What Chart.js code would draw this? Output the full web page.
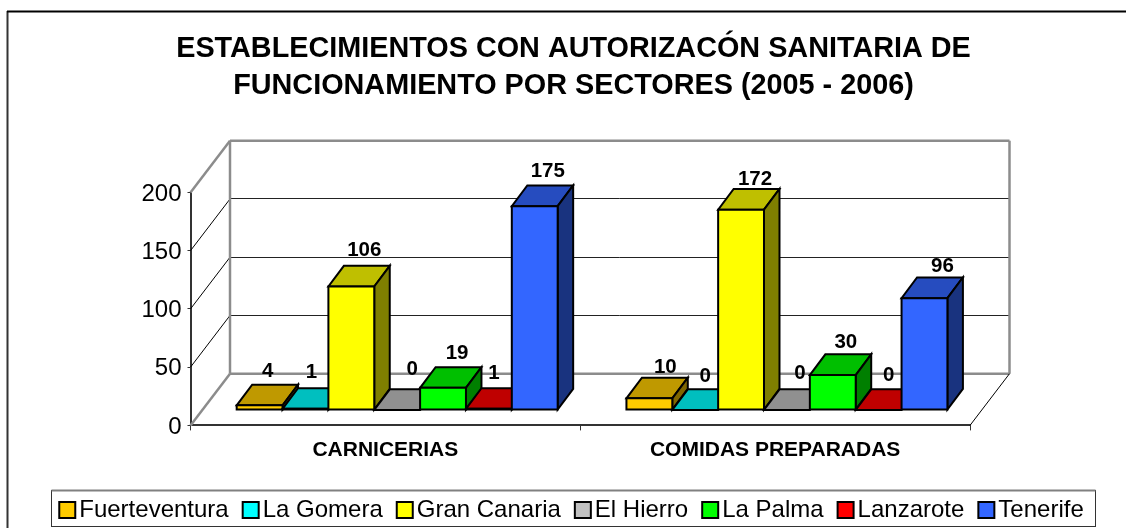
<!DOCTYPE html>
<html><head><meta charset="utf-8">
<style>html,body{margin:0;padding:0;background:#fff}canvas{display:block}</style>
<script src="https://cdn.jsdelivr.net/npm/chart.js@4"></script>
</head><body><canvas id="c" width="1126" height="528"></canvas>
<script>
const categories = ['CARNICERIAS', 'COMIDAS PREPARADAS'];
const fuerteventura = [4, 10];
const laGomera = [1, 0];
const granCanaria = [106, 172];
const elHierro = [0, 0];
const laPalma = [19, 30];
const lanzarote = [1, 0];
const tenerife = [175, 96];
const seriesNames = ['Fuerteventura', 'La Gomera', 'Gran Canaria', 'El Hierro', 'La Palma', 'Lanzarote', 'Tenerife'];
const seriesValues = [fuerteventura, laGomera, granCanaria, elHierro, laPalma, lanzarote, tenerife];
const titleLines = ['ESTABLECIMIENTOS CON AUTORIZACÓN SANITARIA DE', 'FUNCIONAMIENTO POR SECTORES (2005 - 2006)'];

const frontColors = ['#FFCC00', '#00FFFF', '#FFFF00', '#C0C0C0', '#00FF00', '#FF0000', '#3366FF'];
const topColors = ['#BF9900', '#00BFBF', '#BFBF00', '#909090', '#00BF00', '#BF0000', '#264CBF'];
const sideColors = ['#7F6600', '#007F7F', '#7F7F00', '#606060', '#007F00', '#7F0000', '#19337F'];
const labelNudgeX = [[-6, 2], [-8, -4], [-1, 0], [1, -1], [0, -1], [-9, -4], [-1, 4]];
const labelNudgeY = [[1, 4], [-2, 1], [-1, 4], [-6, -2], [0, 2], [-1, 0], [0, 3]];

const FONT = '"Liberation Sans", Arial, sans-serif';
const WALL = {dx: 39.5, dy: -51.7};
const OFFSET = {dx: 11.8, dy: -15.4};
const DEPTH = {dx: 15.5, dy: -20.7};

function poly(ctx, pts, fill) {
  ctx.beginPath();
  pts.forEach((p, i) => i ? ctx.lineTo(p[0], p[1]) : ctx.moveTo(p[0], p[1]));
  ctx.closePath();
  if (fill) { ctx.fillStyle = fill; ctx.fill(); }
  ctx.stroke();
}
function seg(ctx, x1, y1, x2, y2, color, w) {
  ctx.strokeStyle = color; ctx.lineWidth = w;
  ctx.beginPath(); ctx.moveTo(x1, y1); ctx.lineTo(x2, y2); ctx.stroke();
}

const scene3d = {
  id: 'scene3d',
  afterLayout(chart) {
    chart.legend.left += 2; chart.legend.right += 2;
  },
  beforeDatasetsDraw(chart) {
    const ctx = chart.ctx, a = chart.chartArea, y = chart.scales.y;
    const bx = a.left + WALL.dx, rx = a.right + WALL.dx, d = WALL.dy;
    ctx.save();
    y.ticks.forEach((t, i) => {
      const py = y.getPixelForTick(i);
      if (t.value > 0 && t.value < 200) {
        seg(ctx, a.left, py, bx, py + d, '#000', 1);
        seg(ctx, bx, Math.floor(py + d) + 0.5, rx, Math.floor(py + d) + 0.5, '#222', 1);
      }
    });
    const grey = '#8C8C8C';
    seg(ctx, bx, a.top + d, rx, a.top + d, grey, 2.5);
    seg(ctx, bx, a.top + d, bx, a.bottom + d, grey, 2.5);
    seg(ctx, rx, a.top + d, rx, a.bottom + d, grey, 2.5);
    seg(ctx, bx, a.bottom + d, rx, a.bottom + d, grey, 2.5);
    seg(ctx, a.left, a.top, bx, a.top + d, grey, 2.5);
    seg(ctx, a.left, a.bottom, bx, a.bottom + d, grey, 2.5);
    seg(ctx, a.right, a.bottom, rx, a.bottom + d, '#000', 1);
    ctx.lineWidth = 2; ctx.strokeStyle = '#000'; ctx.lineJoin = 'miter';
    seriesValues.forEach((vals, s) => {
      chart.getDatasetMeta(s).data.forEach(el => {
        const {x, y: top, base, width} = el.getProps(['x', 'y', 'base', 'width']);
        const l = x - width / 2 + OFFSET.dx, r = x + width / 2 + OFFSET.dx;
        const t = top + OFFSET.dy, b = base + OFFSET.dy;
        ctx.strokeStyle = '#000'; ctx.lineWidth = 2;
        poly(ctx, [[l, t], [r, t], [r + DEPTH.dx, t + DEPTH.dy], [l + DEPTH.dx, t + DEPTH.dy]], topColors[s]);
        poly(ctx, [[r, t], [r + DEPTH.dx, t + DEPTH.dy], [r + DEPTH.dx, b + DEPTH.dy], [r, b]], sideColors[s]);
        ctx.save(); ctx.translate(OFFSET.dx, OFFSET.dy); el.draw(ctx); ctx.restore();
        ctx.strokeStyle = '#000'; ctx.lineWidth = 2;
        poly(ctx, [[l, t], [r, t], [r, b], [l, b]]);
      });
    });
    ctx.fillStyle = '#000'; ctx.font = 'bold 20.5px ' + FONT;
    ctx.textAlign = 'center'; ctx.textBaseline = 'middle';
    seriesValues.forEach((vals, s) => {
      chart.getDatasetMeta(s).data.forEach((el, i) => {
        const {x, y: top} = el.getProps(['x', 'y']);
        ctx.fillText(String(vals[i]),
          x + OFFSET.dx + 14 + labelNudgeX[s][i],
          top + OFFSET.dy + DEPTH.dy - 14 + labelNudgeY[s][i]);
      });
    });
    ctx.restore();
    return false;
  },
  afterDraw(chart) {
    const ctx = chart.ctx;
    ctx.save();
    seg(ctx, 7.5, 11, 7.5, 528, '#333', 2);
    seg(ctx, 7, 11.5, 1126, 11.5, '#000', 2);
    ctx.strokeStyle = '#333'; ctx.lineWidth = 1;
    ctx.strokeRect(51.5, 490.5, 1044, 36);
    seg(ctx, 51.5, 490.5, 1095.5, 490.5, '#808080', 2);
    ctx.restore();
  }
};

new Chart(document.getElementById('c'), {
  type: 'bar',
  data: {
    labels: categories,
    datasets: seriesNames.map((name, i) => ({
      label: name,
      data: seriesValues[i],
      backgroundColor: frontColors[i],
      borderWidth: 0,
      categoryPercentage: 7 / 8.5,
      barPercentage: 1
    }))
  },
  plugins: [scene3d],
  options: {
    responsive: false,
    animation: false,
    layout: {padding: {left: 21, right: 0, top: 0, bottom: -4}},
    plugins: {
      tooltip: {enabled: false},
      title: {
        display: true,
        text: titleLines,
        color: '#000',
        font: {family: FONT, size: 28.8, weight: 'bold', lineHeight: 1.28},
        padding: {top: 31, bottom: 87.7}
      },
      legend: {
        position: 'bottom',
        labels: {
          color: '#000',
          font: {family: FONT, size: 24},
          padding: 22,
          usePointStyle: true,
          pointStyle: 'rect',
          boxWidth: 0.01,
          boxHeight: 16,
          generateLabels(chart) {
            return Chart.defaults.plugins.legend.labels.generateLabels(chart).map(it => {
              it.lineWidth = 2; it.strokeStyle = '#000'; return it;
            });
          }
        }
      }
    },
    scales: {
      x: {
        offset: true,
        grid: {display: true, drawOnChartArea: false, drawTicks: true, tickLength: 5, color: '#333', offset: true},
        border: {display: true, color: '#333', width: 2},
        ticks: {color: '#000', font: {family: FONT, size: 21, weight: 'bold'}, maxRotation: 0, padding: 7},
        afterFit(s) { s.height = 475.3 - 424.7; }
      },
      y: {
        min: 0, max: 200,
        grid: {display: true, drawOnChartArea: false, drawTicks: true, tickLength: 3, color: '#333'},
        border: {display: true, color: '#333', width: 2},
        ticks: {stepSize: 50, color: '#000', font: {family: FONT, size: 24}, padding: 6, labelOffset: 1.5},
        afterFit(s) { s.width = 190.5 - 21; }
      },
      rightSpace: {
        type: 'linear', position: 'right', display: true,
        grid: {display: false}, border: {display: false}, ticks: {display: false},
        afterFit(s) { s.width = 1126 - 970; }
      }
    }
  }
});
</script></body></html>
